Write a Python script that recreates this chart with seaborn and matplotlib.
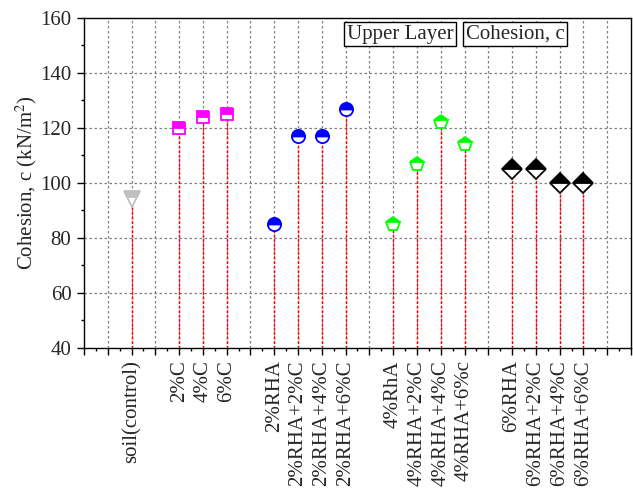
import matplotlib
matplotlib.use("Agg")
import matplotlib.pyplot as plt
from matplotlib.ticker import MultipleLocator, FixedLocator, NullFormatter
import seaborn as sns
import pandas as pd

# Mix designs, grouped by rice-husk-ash content
groups = [
    ["soil(control)"],
    ["2%C", "4%C", "6%C"],
    ["2%RHA", "2%RHA+2%C", "2%RHA+4%C", "2%RHA+6%C"],
    ["4%RhA", "4%RHA+2%C", "4%RHA+4%C", "4%RHA+6%c"],
    ["6%RHA", "6%RHA+2%C", "6%RHA+4%C", "6%RHA+6%C"],
]
# Cohesion c (kN/m^2) for each mix, same order as groups
cohesion = [
    [94],
    [120, 124, 125],
    [85, 117, 117, 127],
    [85, 107, 122, 114],
    [105, 105, 100, 100],
]

group_colors = ["#c0c0c0", "#ff00ff", "#0000ff", "#00ff00", "#000000"]
group_markers = ["v", "s", "o", "p", "D"]
group_msize = [11, 9, 9.5, 10, 10.5]

sns.set_theme(style="ticks")
plt.rcParams["font.family"] = ["Liberation Serif", "DejaVu Serif"]
plt.rcParams["mathtext.fontset"] = "stix"

fig = plt.figure(figsize=(6.33, 4.9), dpi=100)
ax = fig.add_axes([0.1327, 0.2898, 0.8641, 0.6735])

YMIN, YMAX = 40, 160
XMAX = 23

# one empty slot between groups, first group starts at 2
tick_pos, tick_lab = [], []
pos = 2
for gi, (names, vals) in enumerate(zip(groups, cohesion)):
    xs = list(range(pos, pos + len(names)))
    df = pd.DataFrame({"x": xs, "c": vals})
    # red drop lines from each point to the axis
    ax.vlines(df["x"], YMIN, df["c"], colors="#ff0000", linewidth=1.0,
              linestyles=(0, (2.0, 1.2)), zorder=2)
    sns.lineplot(data=df, x="x", y="c", ax=ax, linestyle="", marker=group_markers[gi],
                 markersize=group_msize[gi], fillstyle="top",
                 markerfacecolor=group_colors[gi], markerfacecoloralt="white",
                 markeredgecolor=group_colors[gi], markeredgewidth=1.3,
                 color=group_colors[gi], zorder=4, clip_on=False)
    tick_pos += xs
    tick_lab += names
    pos += len(names) + 1

ax.set_xlim(0, XMAX)
ax.set_ylim(YMIN, YMAX)

# major ticks at every slot, labels only where a mix sits
all_major = list(range(0, XMAX + 1))
labels = [tick_lab[tick_pos.index(i)] if i in tick_pos else "" for i in all_major]
ax.xaxis.set_major_locator(FixedLocator(all_major))
ax.set_xticklabels(labels, rotation=90, fontsize=15)
ax.xaxis.set_minor_locator(MultipleLocator(0.5))
ax.yaxis.set_major_locator(MultipleLocator(20))
ax.yaxis.set_minor_locator(MultipleLocator(10))
ax.yaxis.set_minor_formatter(NullFormatter())
ax.tick_params(axis="y", labelsize=15)

ax.tick_params(which="major", direction="out", length=5, width=1.0, pad=4,
               top=False, right=False, color="black")
ax.tick_params(which="minor", direction="out", length=2.5, width=1.0,
               top=False, right=False, color="black")

# dotted grid
for yv in range(60, 160, 20):
    ax.axhline(yv, color="#808080", linewidth=0.9, linestyle=(0, (2.0, 2.0)), zorder=1)
for xv in range(1, XMAX):
    ax.axvline(xv, color="#808080", linewidth=0.9, linestyle=(0, (2.0, 2.0)), zorder=1)

for sp in ax.spines.values():
    sp.set_visible(True)
    sp.set_linewidth(1.0)
    sp.set_color("black")

ax.set_xlabel("")
ax.set_ylabel(r"Cohesion, c (kN/m$^2$)", fontsize=15, labelpad=1)

box = dict(boxstyle="square,pad=0.12", facecolor="white", edgecolor="black", linewidth=1.0)
ax.text(0.578, 0.95, "Upper Layer", transform=ax.transAxes, fontsize=15,
        ha="center", va="center", bbox=box, zorder=6)
ax.text(0.788, 0.95, "Cohesion, c", transform=ax.transAxes, fontsize=15,
        ha="center", va="center", bbox=box, zorder=6)

fig.savefig("out.png", dpi=100)
